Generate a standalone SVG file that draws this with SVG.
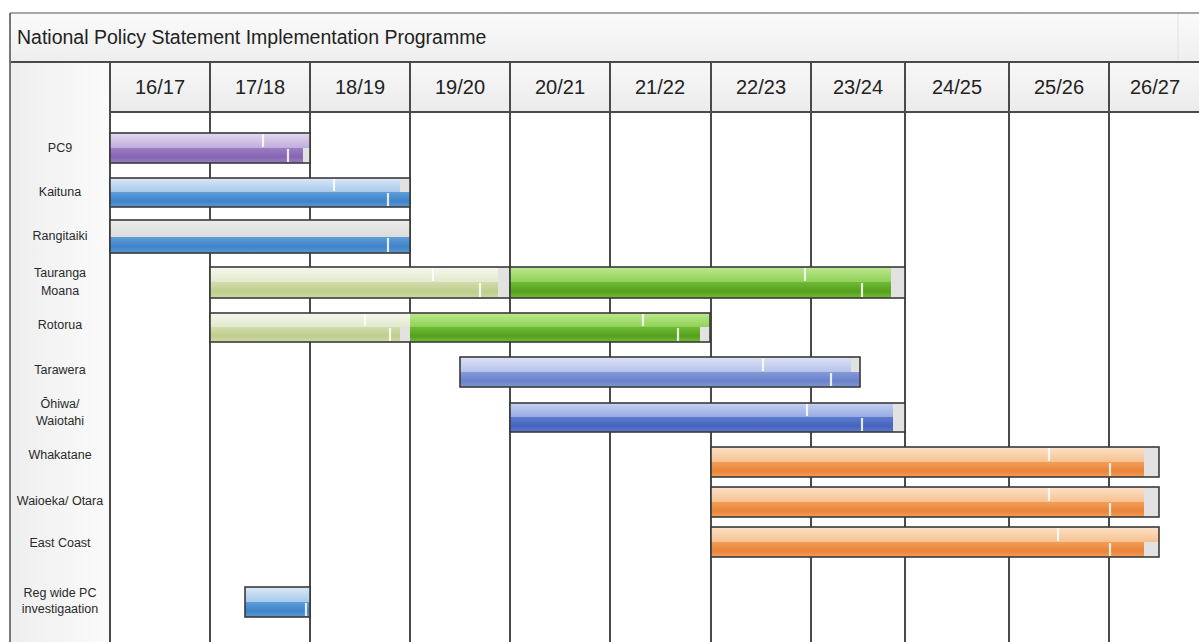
<svg xmlns="http://www.w3.org/2000/svg" width="1199" height="642" viewBox="0 0 1199 642">
<style>
.grid{stroke:#4a4a4a;stroke-width:2;fill:none}
.frame{stroke:#8a8a8a;stroke-width:1.5;fill:none}
.title{font-family:"Liberation Sans",Arial,sans-serif;font-size:19.5px;fill:#222}
.hdr{font-family:"Liberation Sans",Arial,sans-serif;font-size:20px;fill:#222;text-anchor:middle}
.lbl{font-family:"Liberation Sans",Arial,sans-serif;font-size:12.5px;fill:#2a2a2a;text-anchor:middle}
.box{fill:none;stroke:#3a3a3a;stroke-width:1.6}
.tick{stroke:#ffffff;stroke-width:2.2;opacity:0.85}
.end{fill:#e2e2e2}
</style>
<defs>
<linearGradient id="gTitle" x1="0" y1="0" x2="0" y2="1"><stop offset="0" stop-color="#fbfbfb"/><stop offset="1" stop-color="#eeeeee"/></linearGradient>
<linearGradient id="gHdr" x1="0" y1="0" x2="0" y2="1"><stop offset="0" stop-color="#f8f8f8"/><stop offset="1" stop-color="#ebebeb"/></linearGradient>
<linearGradient id="gLbl" x1="0" y1="0" x2="1" y2="0"><stop offset="0" stop-color="#eeeeee"/><stop offset="1" stop-color="#fbfbfb"/></linearGradient>
<linearGradient id="pT" x1="0" y1="0" x2="0" y2="1"><stop offset="0" stop-color="#e4d9f0"/><stop offset="1" stop-color="#c1acdb"/></linearGradient>
<linearGradient id="pB" x1="0" y1="0" x2="0" y2="1"><stop offset="0" stop-color="#9c7ec2"/><stop offset="0.6" stop-color="#8564b2"/><stop offset="1" stop-color="#9a7fc0"/></linearGradient>
<linearGradient id="bT" x1="0" y1="0" x2="0" y2="1"><stop offset="0" stop-color="#dbe9f7"/><stop offset="1" stop-color="#a6c9ec"/></linearGradient>
<linearGradient id="bB" x1="0" y1="0" x2="0" y2="1"><stop offset="0" stop-color="#5d9dd9"/><stop offset="0.6" stop-color="#3f83c9"/><stop offset="1" stop-color="#5a98d4"/></linearGradient>
<linearGradient id="gyT" x1="0" y1="0" x2="0" y2="1"><stop offset="0" stop-color="#ececec"/><stop offset="1" stop-color="#dcdcdc"/></linearGradient>
<linearGradient id="lgT" x1="0" y1="0" x2="0" y2="1"><stop offset="0" stop-color="#f5f8ee"/><stop offset="1" stop-color="#e1e9cc"/></linearGradient>
<linearGradient id="lgB" x1="0" y1="0" x2="0" y2="1"><stop offset="0" stop-color="#d1ddac"/><stop offset="0.6" stop-color="#bfcd8e"/><stop offset="1" stop-color="#cfdba8"/></linearGradient>
<linearGradient id="gT" x1="0" y1="0" x2="0" y2="1"><stop offset="0" stop-color="#bde88f"/><stop offset="1" stop-color="#8fd157"/></linearGradient>
<linearGradient id="gB" x1="0" y1="0" x2="0" y2="1"><stop offset="0" stop-color="#6fbb35"/><stop offset="0.6" stop-color="#559f1d"/><stop offset="1" stop-color="#72bd38"/></linearGradient>
<linearGradient id="lvT" x1="0" y1="0" x2="0" y2="1"><stop offset="0" stop-color="#dde3f5"/><stop offset="1" stop-color="#b5c2ea"/></linearGradient>
<linearGradient id="lvB" x1="0" y1="0" x2="0" y2="1"><stop offset="0" stop-color="#8399d7"/><stop offset="0.6" stop-color="#6a82c9"/><stop offset="1" stop-color="#8096d5"/></linearGradient>
<linearGradient id="dbT" x1="0" y1="0" x2="0" y2="1"><stop offset="0" stop-color="#c6d2f1"/><stop offset="1" stop-color="#96aae3"/></linearGradient>
<linearGradient id="dbB" x1="0" y1="0" x2="0" y2="1"><stop offset="0" stop-color="#5d7ace"/><stop offset="0.6" stop-color="#4564bd"/><stop offset="1" stop-color="#5b78cb"/></linearGradient>
<linearGradient id="oT" x1="0" y1="0" x2="0" y2="1"><stop offset="0" stop-color="#fde3c9"/><stop offset="1" stop-color="#f6c08f"/></linearGradient>
<linearGradient id="oB" x1="0" y1="0" x2="0" y2="1"><stop offset="0" stop-color="#f39d56"/><stop offset="0.6" stop-color="#e9853a"/><stop offset="1" stop-color="#f29b54"/></linearGradient>
</defs>

<rect width="1199" height="642" fill="#ffffff"/>

<g id="title">
<rect x="10" y="13" width="1189" height="49" fill="url(#gTitle)"/>
<line class="frame" x1="10" y1="13" x2="1199" y2="13"/>
<line x1="1178" y1="14" x2="1178" y2="61" stroke="#e2e2e2" stroke-width="1"/>
<text class="title" x="17" y="44">National Policy Statement Implementation Programme</text>
</g>

<g id="grid">
<rect x="10" y="62" width="100" height="580" fill="url(#gLbl)"/>
<rect x="110" y="62" width="1089" height="50" fill="url(#gHdr)"/>
<line class="grid" x1="10" y1="62" x2="1199" y2="62"/>
<line class="grid" x1="110" y1="112" x2="1199" y2="112"/>
<line x1="10" y1="13" x2="10" y2="642" stroke="#777" stroke-width="2"/>
<line class="grid" x1="110" y1="62" x2="110" y2="642"/>
<line class="grid" x1="210" y1="62" x2="210" y2="642"/>
<line class="grid" x1="310" y1="62" x2="310" y2="642"/>
<line class="grid" x1="410" y1="62" x2="410" y2="642"/>
<line class="grid" x1="510" y1="62" x2="510" y2="642"/>
<line class="grid" x1="610" y1="62" x2="610" y2="642"/>
<line class="grid" x1="711" y1="62" x2="711" y2="642"/>
<line class="grid" x1="811" y1="62" x2="811" y2="642"/>
<line class="grid" x1="905" y1="62" x2="905" y2="642"/>
<line class="grid" x1="1009" y1="62" x2="1009" y2="642"/>
<line class="grid" x1="1109" y1="62" x2="1109" y2="642"/>
<text class="hdr" x="160" y="94">16/17</text>
<text class="hdr" x="260" y="94">17/18</text>
<text class="hdr" x="360" y="94">18/19</text>
<text class="hdr" x="460" y="94">19/20</text>
<text class="hdr" x="560" y="94">20/21</text>
<text class="hdr" x="660" y="94">21/22</text>
<text class="hdr" x="761" y="94">22/23</text>
<text class="hdr" x="858" y="94">23/24</text>
<text class="hdr" x="957" y="94">24/25</text>
<text class="hdr" x="1059" y="94">25/26</text>
<text class="hdr" x="1155" y="94">26/27</text>
</g>

<g id="row-pc9">
<text class="lbl" x="60" y="152">PC9</text>
<rect x="110" y="133" width="200" height="30" fill="#ffffff"/>
<rect x="110" y="133" width="200" height="15" fill="url(#pT)"/>
<rect x="110" y="148" width="200" height="15" fill="url(#pB)"/>
<rect class="end" x="303" y="148" width="7" height="15"/>
<line class="tick" x1="263" y1="134" x2="263" y2="147"/>
<line class="tick" x1="288" y1="149" x2="288" y2="162"/>
<rect class="box" x="110" y="133" width="200" height="30"/>
</g>

<g id="row-kaituna">
<text class="lbl" x="60" y="196">Kaituna</text>
<rect x="110" y="178" width="300" height="14" fill="url(#bT)"/>
<rect x="110" y="192" width="300" height="15" fill="url(#bB)"/>
<rect class="end" x="400" y="178" width="10" height="14"/>
<line class="tick" x1="334" y1="179" x2="334" y2="191"/>
<line class="tick" x1="388" y1="193" x2="388" y2="206"/>
<rect class="box" x="110" y="178" width="300" height="29"/>
</g>

<g id="row-rangitaiki">
<text class="lbl" x="60" y="240">Rangitaiki</text>
<rect x="110" y="220" width="300" height="17" fill="url(#gyT)"/>
<rect x="110" y="237" width="300" height="16" fill="url(#bB)"/>
<line class="tick" x1="388" y1="238" x2="388" y2="252"/>
<rect class="box" x="110" y="220" width="300" height="33"/>
</g>

<g id="row-tauranga">
<text class="lbl" x="60" y="277">Tauranga</text>
<text class="lbl" x="60" y="295">Moana</text>
<rect x="210" y="267" width="300" height="15" fill="url(#lgT)"/>
<rect x="210" y="282" width="300" height="16" fill="url(#lgB)"/>
<rect class="end" x="498" y="267" width="12" height="31"/>
<line class="tick" x1="433" y1="268" x2="433" y2="281"/>
<line class="tick" x1="480" y1="283" x2="480" y2="297"/>
<rect class="box" x="210" y="267" width="300" height="31"/>
<rect x="510" y="267" width="395" height="15" fill="url(#gT)"/>
<rect x="510" y="282" width="395" height="16" fill="url(#gB)"/>
<rect class="end" x="891" y="267" width="14" height="31"/>
<line class="tick" x1="805" y1="268" x2="805" y2="281"/>
<line class="tick" x1="862" y1="283" x2="862" y2="297"/>
<rect class="box" x="510" y="267" width="395" height="31"/>
</g>

<g id="row-rotorua">
<text class="lbl" x="60" y="329">Rotorua</text>
<rect x="210" y="313" width="200" height="14" fill="url(#lgT)"/>
<rect x="210" y="327" width="200" height="15" fill="url(#lgB)"/>
<rect class="end" x="400" y="327" width="10" height="15"/>
<line class="tick" x1="365" y1="314" x2="365" y2="326"/>
<line class="tick" x1="390" y1="328" x2="390" y2="341"/>
<rect x="410" y="313" width="300" height="14" fill="url(#gT)"/>
<rect x="410" y="327" width="300" height="15" fill="url(#gB)"/>
<rect class="end" x="700" y="327" width="10" height="15"/>
<line class="tick" x1="643" y1="314" x2="643" y2="326"/>
<line class="tick" x1="678" y1="328" x2="678" y2="341"/>
<rect class="box" x="210" y="313" width="500" height="29"/>
</g>

<g id="row-tarawera">
<text class="lbl" x="60" y="374">Tarawera</text>
<rect x="460" y="357" width="400" height="15" fill="url(#lvT)"/>
<rect x="460" y="372" width="400" height="15" fill="url(#lvB)"/>
<rect class="end" x="851" y="357" width="9" height="15"/>
<line class="tick" x1="763" y1="358" x2="763" y2="371"/>
<line class="tick" x1="831" y1="373" x2="831" y2="386"/>
<rect class="box" x="460" y="357" width="400" height="30"/>
</g>

<g id="row-ohiwa">
<text class="lbl" x="60" y="408">Ōhiwa/</text>
<text class="lbl" x="60" y="425">Waiotahi</text>
<rect x="510" y="403" width="395" height="14" fill="url(#dbT)"/>
<rect x="510" y="417" width="395" height="15" fill="url(#dbB)"/>
<rect class="end" x="893" y="403" width="12" height="29"/>
<line class="tick" x1="807" y1="404" x2="807" y2="416"/>
<line class="tick" x1="862" y1="418" x2="862" y2="431"/>
<rect class="box" x="510" y="403" width="395" height="29"/>
</g>

<g id="row-whakatane">
<text class="lbl" x="60" y="459">Whakatane</text>
<rect x="711" y="447" width="448" height="15" fill="url(#oT)"/>
<rect x="711" y="462" width="448" height="15" fill="url(#oB)"/>
<rect class="end" x="1144" y="447" width="15" height="30"/>
<line class="tick" x1="1049" y1="448" x2="1049" y2="461"/>
<line class="tick" x1="1110" y1="463" x2="1110" y2="476"/>
<rect class="box" x="711" y="447" width="448" height="30"/>
</g>

<g id="row-waioeka">
<text class="lbl" x="60" y="505">Waioeka/ Otara</text>
<rect x="711" y="487" width="448" height="15" fill="url(#oT)"/>
<rect x="711" y="502" width="448" height="15" fill="url(#oB)"/>
<rect class="end" x="1144" y="487" width="15" height="30"/>
<line class="tick" x1="1049" y1="488" x2="1049" y2="501"/>
<line class="tick" x1="1110" y1="503" x2="1110" y2="516"/>
<rect class="box" x="711" y="487" width="448" height="30"/>
</g>

<g id="row-eastcoast">
<text class="lbl" x="60" y="547">East Coast</text>
<rect x="711" y="527" width="448" height="15" fill="url(#oT)"/>
<rect x="711" y="542" width="448" height="15" fill="url(#oB)"/>
<rect class="end" x="1144" y="542" width="15" height="15"/>
<line class="tick" x1="1058" y1="528" x2="1058" y2="541"/>
<line class="tick" x1="1110" y1="543" x2="1110" y2="556"/>
<rect class="box" x="711" y="527" width="448" height="30"/>
</g>

<g id="row-regwide">
<text class="lbl" x="60" y="597">Reg wide PC</text>
<text class="lbl" x="60" y="613">investigaation</text>
<rect x="245" y="587" width="65" height="15" fill="url(#bT)"/>
<rect x="245" y="602" width="65" height="15" fill="url(#bB)"/>
<line class="tick" x1="306" y1="603" x2="306" y2="616"/>
<rect class="box" x="245" y="587" width="65" height="30"/>
</g>

<g id="connectors"></g>
</svg>
